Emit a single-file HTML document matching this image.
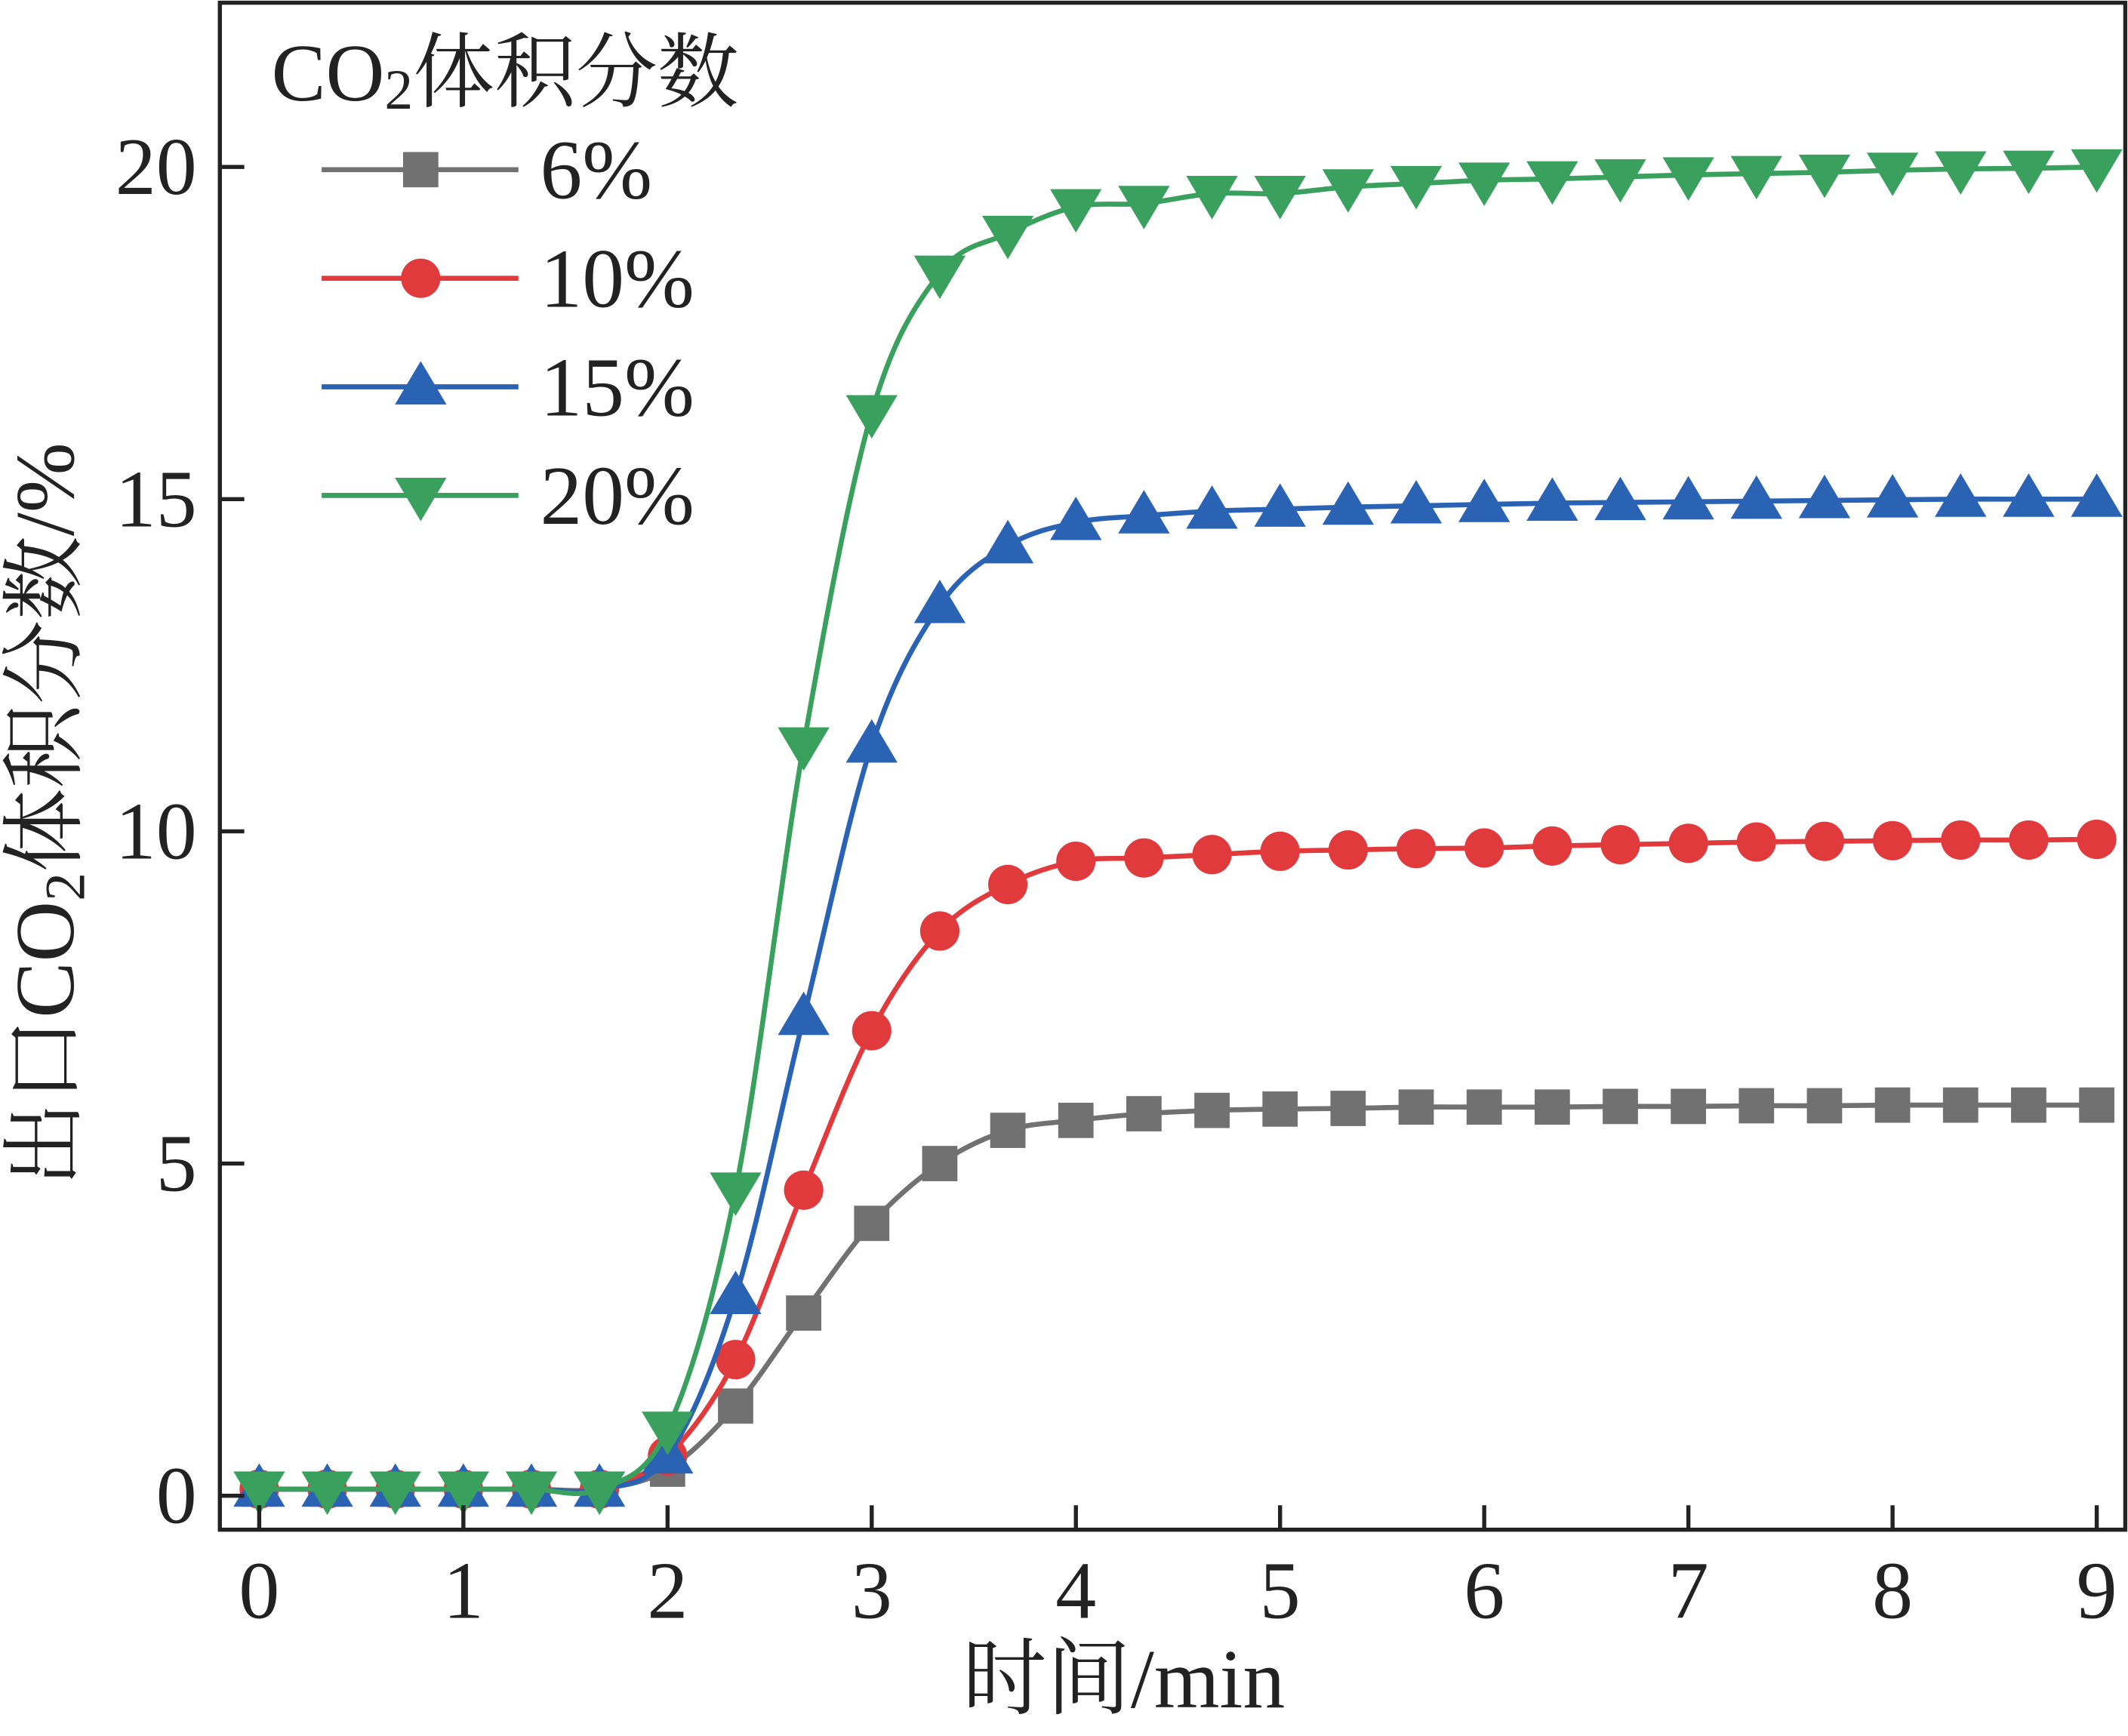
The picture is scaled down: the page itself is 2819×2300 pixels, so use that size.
<!DOCTYPE html>
<html><head><meta charset="utf-8">
<style>
html,body{margin:0;padding:0;background:#fff;}
svg{display:block;}
text{font-family:"Liberation Serif","Noto Serif CJK SC",serif;fill:#222;}
</style></head>
<body>
<svg id="s" width="2819" height="2300" viewBox="0 0 1568 1279" preserveAspectRatio="none" xmlns="http://www.w3.org/2000/svg">
<g id="plot"></g>
<rect x="162" y="2" width="1404" height="1125" fill="none" stroke="#222" stroke-width="3"/>
<g id="ticks" stroke="#222" stroke-width="3"></g>
<g font-size="60" text-anchor="middle" id="xl"></g>
<g font-size="60" text-anchor="end" id="yl"></g>
<text x="828" y="1258" font-size="62" text-anchor="middle">时间/min</text>
<text transform="translate(54,600) rotate(-90)" font-size="62" text-anchor="middle">出口CO<tspan font-size="42" dy="8">2</tspan><tspan dy="-8">体积分数/%</tspan></text>
<text x="200" y="74" font-size="60">CO<tspan font-size="42" dy="6">2</tspan><tspan dy="-6">体积分数</tspan></text>
<g id="leg"></g>
</svg>
<script>
const NS="http://www.w3.org/2000/svg";
function X(t){return 191+t*150.44;}
function Y(v){return 1102-v*48.95;}
function el(p,tag,a,txt){const e=document.createElementNS(NS,tag);for(const k in a)e.setAttribute(k,a[k]);if(txt!=null)e.textContent=txt;document.getElementById(p).appendChild(e);return e;}
for(let i=0;i<=9;i++){el('ticks','line',{x1:X(i),x2:X(i),y1:1127,y2:1109});el('xl','text',{x:X(i),y:1192},i);}
for(let v=0;v<=20;v+=5){el('ticks','line',{x1:162,x2:180,y1:Y(v),y2:Y(v)});el('yl','text',{x:145,y:Y(v)+20},v);}
const base=[0.1,0.1,0.1,0.1,0.1,0.1];
const S=[
 {c:'#717171',m:'sq',d:base.concat([0.4,1.35,2.75,4.1,5.0,5.5,5.65,5.75,5.8,5.82,5.83,5.85,5.85,5.85,5.86,5.86,5.87,5.87,5.88,5.88,5.88,5.88])},
 {c:'#e03a3c',m:'ci',d:base.concat([0.6,2.05,4.6,7.0,8.5,9.2,9.55,9.6,9.65,9.7,9.72,9.74,9.75,9.78,9.8,9.82,9.84,9.85,9.86,9.87,9.87,9.88])},
 {c:'#2a62b4',m:'up',d:base.concat([0.6,3.0,7.2,11.3,13.4,14.3,14.65,14.75,14.82,14.85,14.88,14.9,14.92,14.94,14.95,14.96,14.97,14.98,14.99,15.0,15.0,15.0])},
 {c:'#3aa05e',m:'dn',d:base.concat([1.0,4.6,11.3,16.3,18.4,19.0,19.4,19.45,19.6,19.6,19.7,19.75,19.8,19.82,19.85,19.88,19.9,19.92,19.95,19.97,19.98,20.0])}
];
function marker(g,m,x,y,c){
 if(m=='sq')el(g,'rect',{x:x-13,y:y-13,width:26,height:26,fill:c});
 else if(m=='ci')el(g,'circle',{cx:x,cy:y,r:14.5,fill:c});
 else if(m=='up')el(g,'polygon',{points:`${x},${y-19} ${x-19},${y+13} ${x+19},${y+13}`,fill:c});
 else el(g,'polygon',{points:`${x},${y+19} ${x-19},${y-13} ${x+19},${y-13}`,fill:c});
}
function path(pts){let d=`M${pts[0][0]},${pts[0][1]}`;for(let i=0;i<pts.length-1;i++){const p0=pts[Math.max(0,i-1)],p1=pts[i],p2=pts[i+1],p3=pts[Math.min(pts.length-1,i+2)];d+=` C${p1[0]+(p2[0]-p0[0])/6},${p1[1]+(p2[1]-p0[1])/6} ${p2[0]-(p3[0]-p1[0])/6},${p2[1]-(p3[1]-p1[1])/6} ${p2[0]},${p2[1]}`;}return d;}
S.forEach(s=>{
 const pts=s.d.map((v,i)=>[X(i/3),Y(v)]);
 el('plot','path',{d:path(pts),fill:'none',stroke:s.c,'stroke-width':3.7});
 pts.forEach(p=>marker('plot',s.m,p[0],p[1],s.c));
});
const labs=['6%','10%','15%','20%'];
S.forEach((s,i)=>{const y=125+i*80;
 el('leg','line',{x1:237,x2:382,y1:y,y2:y,stroke:s.c,'stroke-width':3.7});
 marker('leg',s.m,310,y,s.c);
 el('leg','text',{x:398,y:y+21,'font-size':62},labs[i]);
});
</script>
</body></html>
